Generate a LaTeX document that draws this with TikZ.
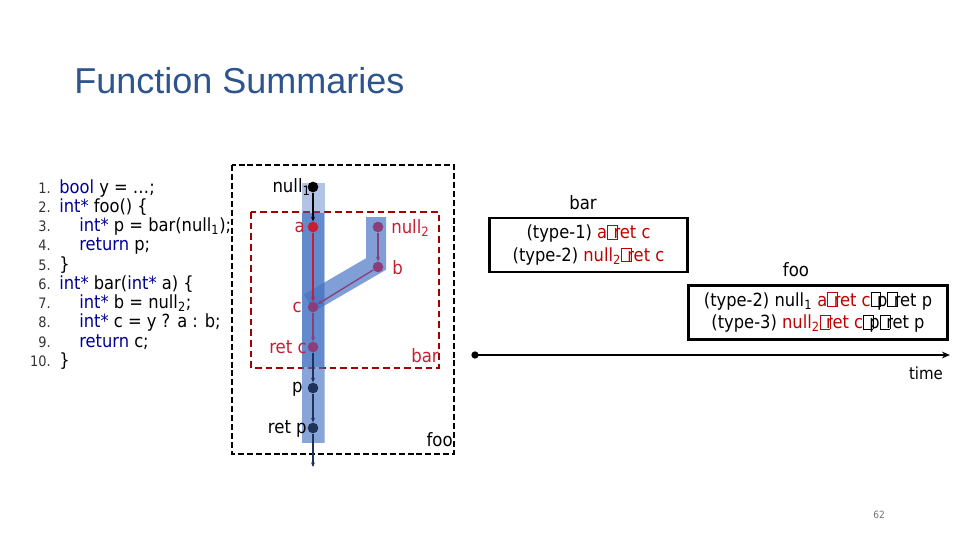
\documentclass[tikz,border=0pt]{standalone}
\usepackage{fontspec}
\setmainfont{DejaVu Sans Condensed}
\newfontfamily\titlefont{Liberation Sans}
\usetikzlibrary{arrows.meta}
\definecolor{titleblue}{RGB}{46,84,142}
\definecolor{kwblue}{RGB}{0,0,150}
\definecolor{dred}{RGB}{192,0,0}
\definecolor{lred}{RGB}{200,30,50}
\definecolor{purp}{RGB}{140,62,122}
\definecolor{navy}{RGB}{31,50,90}
\definecolor{bandblue}{RGB}{68,114,196}
\newcommand{\tofu}{{\fboxsep=0pt\fboxrule=0.5pt\fbox{\rule{0pt}{0.72em}\hspace{0.5em}}}\kern-0.22em}
\newcommand{\kw}[1]{\textcolor{kwblue}{#1}}
\begin{document}
\begin{tikzpicture}[x=0.75pt,y=-0.75pt,
  codeline/.style={anchor=base west,inner sep=0pt,font=\fontsize{13.6}{15}\selectfont},
  lnum/.style={anchor=base east,inner sep=0pt,font=\fontsize{10.8}{12}\selectfont,text=black!80},
  dotnode/.style={circle,fill=#1,inner sep=0pt,minimum size=8pt},
  lbl/.style={inner sep=0pt,font=\fontsize{13.8}{15}\selectfont},
  arr/.style={-{Stealth[length=3.5pt,width=3pt]},line width=1pt,draw=#1},
  band/.style={line width=#1,draw=bandblue,line cap=butt},
  sumbox/.style={draw=black,line width=1.9pt,inner sep=0pt,align=center,
    font=\fontsize{13.6}{17}\selectfont},
]
\useasboundingbox (0,0) rectangle (960,540);

% title
\node[anchor=base west,inner sep=0pt,text=titleblue,font=\titlefont\fontsize{27}{30}\selectfont] (title) at (74,93) {Function Summaries};

% code
\foreach \n [count=\i from 0] in {1.,2.,3.,4.,5.,6.,7.,8.,9.,10.}{
  \node[lnum] (n\i) at (51,{193+\i*19.25}) {\n};
}
\node[codeline] (c1) at (59,193) {\kw{bool} y = …;};
\node[codeline] (c2) at (59,212.25) {\kw{int*} foo() \{};
\node[codeline] (c3) at (79,231.5) {\kw{int*} p = bar(null\textsubscript{1});};
\node[codeline] (c4) at (79,250.75) {\kw{return} p;};
\node[codeline] (c5) at (59,270) {\}};
\node[codeline] (c6) at (59,289.25) {\kw{int*} bar(\kw{int*} a) \{};
\node[codeline] (c7) at (79,308.5) {\kw{int*} b = null\textsubscript{2};};
\node[codeline] (c8) at (79,327.75) {\kw{int*} c = y ? a : b;};
\node[codeline] (c9) at (79,347) {\kw{return} c;};
\node[codeline] (c10) at (59,366.25) {\}};

% regions
\draw[line width=1.6pt,dash pattern=on 4.5pt off 2.2pt] (232,165) rectangle (454,454);
\draw[line width=1.6pt,draw=dred!85!black,dash pattern=on 5pt off 3pt] (251,212) rectangle (439,368);

% bands
\draw[band=17.25pt,draw opacity=0.42] (313,183) -- (313,443);
\draw[band=16pt,draw opacity=0.38] (313,367) -- (313,443);
\draw[band=16.5pt,draw opacity=0.7] (313,213) -- (313,367);
\draw[band=15pt,draw opacity=0.68] (376,217) -- (376,264) -- (309,303);

% dots
\node[dotnode=black] (null1) at (313,187) {};
\node[dotnode=lred] (a) at (313,227) {};
\node[dotnode=purp] (null2) at (378,227) {};
\node[dotnode=purp] (b) at (378,267) {};
\node[dotnode=purp] (c) at (313,307) {};
\node[dotnode=purp] (retc) at (313,347) {};
\node[dotnode=navy] (p) at (313,388) {};
\node[dotnode=navy] (retp) at (313,428) {};
\coordinate (out) at (313,467);

% labels
\node[lbl,anchor=east] (Lnull1) at (311,187) {null\textsubscript{1}};
\node[lbl,anchor=east,text=lred] (La) at (305,227) {a};
\node[lbl,anchor=west,text=lred] (Lnull2) at (391,228) {null\textsubscript{2}};
\node[lbl,anchor=west,text=lred] (Lb) at (392,268) {b};
\node[lbl,anchor=east,text=lred] (Lc) at (302,307) {c};
\node[lbl,anchor=east,text=lred] (Lretc) at (307,347) {ret c};
\node[lbl,anchor=east] (Lp) at (303,389) {p};
\node[lbl,anchor=east] (Lretp) at (307,429) {ret p};
\node[lbl,anchor=east,text=lred] (Lbar) at (439,356) {bar};
\node[lbl,anchor=east] (Lfoo) at (453,440) {foo};

% edges
\draw[arr=black] (null1) -- (a);
\draw[arr=lred] (a) -- (c);
\draw[arr=purp] (null2) -- (b);
\draw[arr=purp] (b) -- (c);
\draw[arr=purp] (c) -- (retc);
\draw[arr=navy] (retc) -- (p);
\draw[arr=navy] (p) -- (retp);
\draw[arr=navy] (retp) -- (out);

% summary boxes
\node[lbl] (barlbl) at (583,203) {bar};
\node[sumbox,minimum width=148.5pt,minimum height=40.5pt] (barbox) at (588.5,245)
  {(type-1) \textcolor{dred}{a\tofu ret c}\\(type-2) \textcolor{dred}{null\textsubscript{2}\tofu ret c}};
\node[lbl] (foolbl) at (796,270) {foo};
\node[sumbox,minimum width=194pt,minimum height=40.5pt] (foobox) at (818,312.5)
  {(type-2) null\textsubscript{1} \textcolor{dred}{a\tofu ret c}\tofu p\tofu ret p\\(type-3) \textcolor{dred}{null\textsubscript{2}\tofu ret c}\tofu p\tofu ret p};

% time axis
\node[dotnode=black,minimum size=5.5pt] (t0) at (475,355) {};
\coordinate (t1) at (950,355);
\draw[-{Stealth[length=6pt,width=5pt]},line width=2pt] (t0.center) -- (t1);
\node[lbl,font=\fontsize{12.5}{13}\selectfont] (time) at (926,373) {time};

% page number
\node[inner sep=0pt,text=black!55,font=\fontsize{7.5}{9}\selectfont] (page) at (879,515) {62};
\end{tikzpicture}
\end{document}
